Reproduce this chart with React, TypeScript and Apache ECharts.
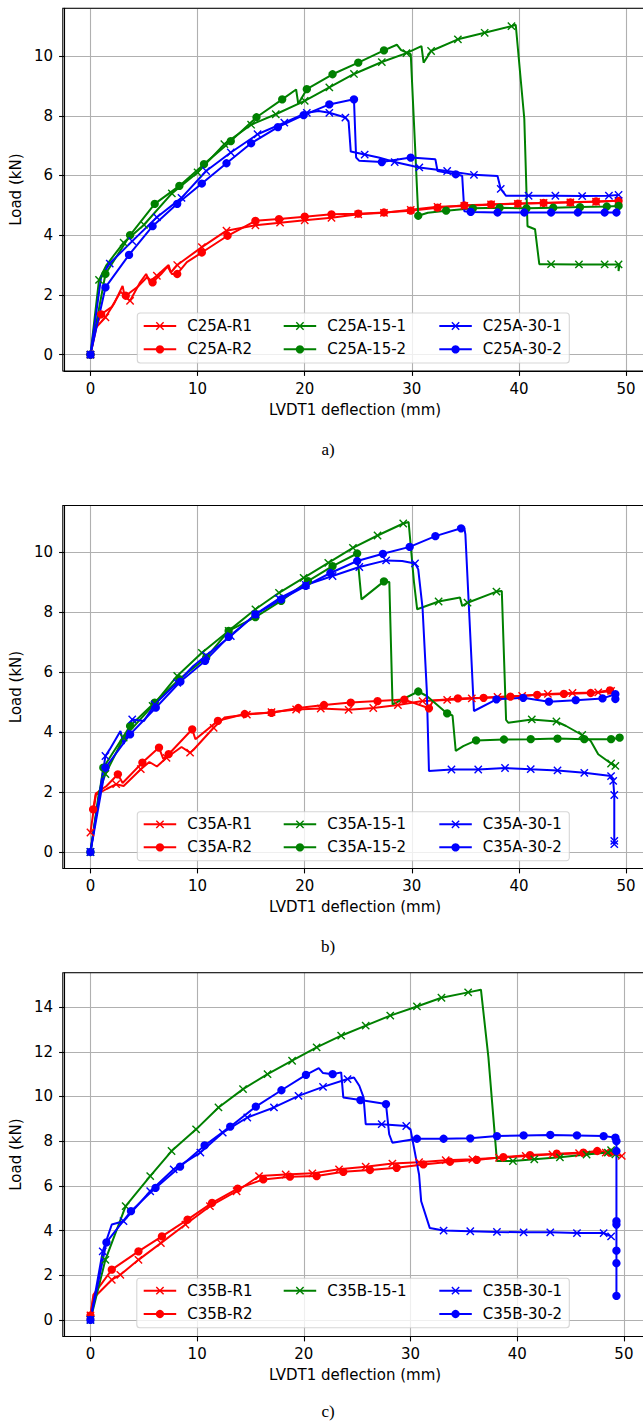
import React, { useEffect, useRef } from "react";
import * as echarts from "echarts";

// ---------- DATA ----------
// each point: [deflection (mm), load (kN), marker flag]
const panelNames = ["a)", "b)", "c)"];

const seriesNamesA = ["C25A-R1", "C25A-R2", "C25A-15-1", "C25A-15-2", "C25A-30-1", "C25A-30-2"];
const seriesNamesB = ["C35A-R1", "C35A-R2", "C35A-15-1", "C35A-15-2", "C35A-30-1", "C35A-30-2"];
const seriesNamesC = ["C35B-R1", "C35B-R2", "C35B-15-1", "C35B-30-1", "C35B-30-2"];

const A_R1 = [[0,0,1],[0.5,0.9,0],[1.4,1.25,1],[2.2,1.7,0],[3.0,2.3,0],[3.2,1.95,0],[3.7,1.8,1],[4.6,2.4,0],[5.2,2.7,0],[5.5,2.45,0],[6.2,2.64,1],[7.3,3.0,0],[7.5,2.75,0],[8.1,3.0,1],[10.4,3.6,1],[12.7,4.15,1],[15.4,4.33,1],[17.7,4.42,1],[20.0,4.5,1],[22.5,4.58,1],[25.0,4.7,1],[27.4,4.75,1],[29.9,4.85,1],[32.4,4.95,1],[34.9,4.98,1],[37.4,5.03,1],[39.9,5.05,1],[42.3,5.08,1],[44.8,5.1,1],[47.2,5.12,1],[49.3,5.15,1]];
const A_R2 = [[0,0,1],[0.6,1.0,0],[1.0,1.35,1],[2.0,1.6,0],[2.8,2.1,0],[3.3,1.97,1],[4.5,2.3,0],[5.3,2.6,0],[5.8,2.42,1],[6.6,2.7,0],[7.2,2.95,0],[7.6,2.7,0],[8.1,2.7,1],[9.0,3.1,0],[10.4,3.42,1],[12.8,3.98,1],[15.4,4.48,1],[17.6,4.54,1],[20.0,4.62,1],[22.5,4.7,1],[25.0,4.72,1],[27.4,4.76,1],[29.9,4.82,1],[32.4,4.92,1],[34.9,5.0,1],[37.4,5.03,1],[39.9,5.06,1],[42.3,5.08,1],[44.8,5.1,1],[47.2,5.13,1],[49.3,5.15,1]];
const A_151 = [[0,0,1],[0.8,2.5,1],[1.5,3.0,0],[3.1,3.75,1],[5.0,4.35,1],[7.6,5.4,1],[10.0,6.1,1],[12.5,7.05,1],[15.0,7.7,1],[17.3,8.05,1],[20.0,8.5,1],[22.3,8.95,1],[24.6,9.4,1],[27.2,9.8,1],[29.5,10.1,1],[30.9,10.33,0],[31.1,9.78,0],[31.8,10.17,1],[34.3,10.56,1],[36.8,10.78,1],[39.3,11.0,1],[39.7,11.05,0],[40.5,7.9,0],[40.8,4.3,0],[41.5,4.2,0],[41.9,3.03,0],[43.0,3.03,1],[45.6,3.02,1],[48.0,3.02,1],[49.3,3.02,1],[49.3,2.8,0],[49.4,3.05,0]];
const A_152 = [[0,0,1],[1.4,2.7,1],[3.7,4.0,1],[6.0,5.05,1],[8.3,5.65,1],[10.6,6.38,1],[13.1,7.15,1],[15.5,7.95,1],[17.9,8.55,1],[19.2,8.88,0],[19.4,8.4,0],[20.2,8.89,1],[22.6,9.39,1],[25.0,9.78,1],[27.4,10.19,1],[28.6,10.38,0],[29.0,10.2,0],[29.9,10.06,0],[30.3,7.0,0],[30.6,4.65,1],[31.5,4.75,0],[33.2,4.82,1],[35.7,4.9,1],[38.2,4.92,1],[40.7,4.9,1],[43.2,4.92,1],[45.7,4.94,1],[48.2,4.96,1],[49.3,4.98,1]];
const A_301 = [[0,0,1],[1.0,2.6,0],[1.8,3.05,1],[3.9,3.8,1],[6.2,4.6,1],[8.5,5.25,1],[10.8,6.15,1],[13.1,6.77,1],[15.6,7.38,1],[18.1,7.77,1],[20.2,8.1,1],[21.3,8.16,0],[22.3,8.1,1],[23.8,7.94,1],[24.1,7.8,0],[24.3,6.8,0],[25.6,6.7,1],[26.9,6.6,0],[28.4,6.45,1],[30.7,6.27,1],[33.3,6.15,1],[35.8,6.02,1],[38.0,5.98,0],[38.3,5.55,1],[38.8,5.32,0],[40.9,5.32,1],[43.4,5.32,1],[45.9,5.31,1],[48.4,5.32,1],[49.3,5.35,1]];
const A_302 = [[0,0,1],[1.4,2.25,1],[3.6,3.34,1],[5.8,4.3,1],[8.1,5.05,1],[10.4,5.73,1],[12.7,6.41,1],[15.0,7.08,1],[17.5,7.62,1],[19.9,8.02,1],[22.3,8.38,1],[24.6,8.55,1],[24.8,6.6,0],[25.1,6.49,0],[27.2,6.45,1],[29.9,6.6,1],[32.2,6.54,0],[32.4,6.15,0],[34.1,6.04,1],[34.7,5.99,0],[34.9,4.8,0],[35.5,4.78,1],[38.0,4.76,1],[40.5,4.76,1],[43.0,4.76,1],[45.5,4.76,1],[48.0,4.76,1],[49.1,4.76,1]];

const B_R1 = [[0,0.65,1],[0.5,1.9,0],[1.5,2.1,0],[2.4,2.26,1],[3.1,2.2,0],[4.7,2.76,1],[5.5,3.0,0],[6.2,2.85,0],[7.1,3.14,1],[8.5,3.5,0],[9.3,3.31,1],[9.6,3.4,0],[11.5,4.14,1],[12.5,4.48,0],[14.6,4.58,1],[16.9,4.66,1],[19.2,4.75,1],[21.5,4.78,1],[24.1,4.74,1],[26.4,4.8,1],[28.7,4.9,1],[31.0,5.03,1],[33.3,5.07,1],[35.6,5.12,1],[38.0,5.17,1],[40.3,5.2,1],[42.7,5.27,1],[45.0,5.3,1],[47.4,5.32,1],[48.6,5.37,1]];
const B_R2 = [[0.25,1.42,1],[0.5,1.95,0],[1.5,2.2,0],[2.56,2.59,1],[3.0,2.3,0],[4.85,2.98,1],[6.4,3.48,1],[6.8,3.1,0],[7.3,3.26,1],[9.5,4.09,1],[9.8,3.76,0],[11.9,4.37,1],[14.4,4.6,1],[16.9,4.64,1],[19.4,4.8,1],[21.8,4.9,1],[24.3,4.98,1],[26.8,5.03,1],[29.3,5.08,1],[31.6,4.79,1],[32.0,5.05,0],[34.3,5.12,1],[36.7,5.14,1],[39.2,5.18,1],[41.7,5.24,1],[44.2,5.27,1],[46.7,5.3,1],[48.5,5.39,1]];
const B_151 = [[0,0,1],[0.8,2.0,0],[1.4,2.6,1],[3.1,3.81,1],[5.8,4.87,1],[8.1,5.87,1],[10.4,6.64,1],[12.9,7.37,1],[15.4,8.09,1],[17.6,8.64,1],[19.9,9.14,1],[22.2,9.64,1],[24.5,10.14,1],[26.8,10.55,1],[29.2,10.95,1],[29.7,11.0,0],[30.2,9.0,0],[30.5,8.09,0],[32.5,8.35,1],[34.5,8.48,0],[34.7,8.2,0],[35.2,8.31,1],[37.9,8.68,1],[38.4,8.7,0],[38.8,4.4,0],[39.0,4.31,0],[41.2,4.42,1],[43.5,4.35,1],[44.4,4.2,0],[45.9,3.9,1],[46.7,3.7,0],[47.4,3.26,0],[48.6,2.95,1],[49.0,2.87,1]];
const B_152 = [[0,0,1],[1.2,2.81,1],[3.7,4.2,1],[6.0,4.98,1],[8.3,5.76,1],[10.8,6.48,1],[12.9,7.37,1],[15.4,7.83,1],[17.8,8.37,1],[20.3,9.03,1],[22.6,9.53,1],[24.9,9.95,1],[25.3,8.42,0],[27.4,9.02,1],[27.9,9.0,0],[28.2,4.92,0],[30.6,5.35,1],[31.4,5.2,0],[33.3,4.62,1],[33.8,4.55,0],[34.1,3.37,0],[34.8,3.53,0],[36.0,3.72,1],[38.6,3.75,1],[41.1,3.76,1],[43.6,3.78,1],[46.1,3.76,1],[48.6,3.76,1],[49.4,3.81,1]];
const B_301 = [[0,0,1],[1.4,3.2,1],[1.8,3.42,0],[2.8,4.03,0],[3.1,3.6,0],[3.9,4.42,1],[5.0,4.37,0],[6.0,4.92,1],[8.1,5.64,1],[9.6,6.2,0],[10.8,6.55,1],[13.1,7.2,1],[15.4,7.92,1],[17.6,8.45,1],[20.1,8.9,1],[22.6,9.2,1],[25.1,9.5,1],[27.6,9.72,1],[29.1,9.7,0],[30.3,9.62,1],[30.6,9.42,0],[31.0,8.14,0],[31.4,5.37,0],[31.6,2.7,0],[33.7,2.75,1],[36.2,2.75,1],[38.7,2.8,1],[41.1,2.76,1],[43.6,2.72,1],[46.1,2.64,1],[48.6,2.53,1],[48.8,2.37,1],[48.9,1.9,1],[48.9,0.37,1],[48.9,0.26,1]];
const B_302 = [[0,0,1],[1.4,2.81,1],[3.7,3.92,1],[6.1,4.81,1],[8.4,5.68,1],[10.7,6.37,1],[12.9,7.17,1],[15.4,7.92,1],[17.8,8.42,1],[20.1,8.87,1],[22.4,9.3,1],[24.9,9.7,1],[27.3,9.94,1],[29.8,10.17,1],[32.2,10.53,1],[34.6,10.79,1],[34.9,10.8,0],[35.0,10.59,0],[35.8,4.7,0],[37.9,5.09,1],[40.4,5.14,1],[42.8,5.01,1],[45.3,5.06,1],[47.8,5.12,1],[49.0,5.26,1],[49.0,5.1,1]];

const C_R1 = [[0,0.2,1],[0.27,0.97,0],[2.0,1.8,1],[2.8,2.02,1],[4.5,2.69,1],[6.6,3.44,1],[8.9,4.27,1],[11.2,5.09,1],[13.7,5.76,1],[15.8,6.44,1],[18.3,6.51,1],[20.8,6.56,1],[23.3,6.74,1],[25.8,6.86,1],[28.3,7.0,1],[30.8,7.06,1],[33.3,7.15,1],[35.8,7.19,1],[38.3,7.26,1],[40.8,7.34,1],[43.3,7.41,1],[45.8,7.46,1],[48.3,7.49,1],[49.8,7.34,1]];
const C_R2 = [[0,0.2,1],[0.27,1.12,0],[2.0,2.25,1],[4.5,3.07,1],[6.7,3.74,1],[9.1,4.49,1],[11.4,5.24,1],[13.8,5.88,1],[16.2,6.29,1],[18.7,6.41,1],[21.2,6.44,1],[23.7,6.63,1],[26.2,6.71,1],[28.7,6.81,1],[31.2,6.96,1],[33.7,7.08,1],[36.2,7.16,1],[38.7,7.29,1],[41.2,7.38,1],[43.7,7.44,1],[46.2,7.49,1],[47.5,7.56,1],[48.7,7.49,1]];
const C_151 = [[0,0,1],[1.4,2.69,1],[3.3,5.09,1],[5.6,6.44,1],[7.6,7.56,1],[9.9,8.53,1],[12.0,9.51,1],[14.3,10.33,1],[16.6,11.0,1],[18.9,11.6,1],[21.2,12.2,1],[23.5,12.72,1],[25.8,13.17,1],[28.1,13.62,1],[30.6,14.03,1],[32.9,14.42,1],[35.4,14.66,1],[36.6,14.78,0],[37.3,11.75,0],[38.1,7.11,0],[39.6,7.11,1],[41.6,7.19,1],[44.0,7.28,1],[46.5,7.4,1],[48.5,7.49,1],[48.8,7.6,1],[49.2,7.41,1]];
const C_301 = [[0,0,1],[1.15,3.07,1],[2.0,4.27,0],[3.1,4.42,1],[5.6,5.76,1],[7.8,6.74,1],[10.3,7.49,1],[12.4,8.38,1],[14.7,9.06,1],[17.2,9.51,1],[19.5,10.03,1],[21.8,10.43,1],[24.1,10.78,1],[24.7,10.85,0],[25.2,10.48,0],[25.6,9.96,0],[25.8,8.76,0],[27.3,8.76,1],[29.6,8.68,1],[30.0,8.53,0],[30.8,6.51,0],[31.0,5.31,0],[31.8,4.12,0],[33.1,4.0,1],[35.6,3.97,1],[38.1,3.94,1],[40.6,3.92,1],[43.1,3.92,1],[45.6,3.89,1],[48.1,3.89,1],[48.8,3.74,1]];
const C_302 = [[0,0,1],[1.5,3.47,1],[3.8,4.87,1],[6.1,5.91,1],[8.4,6.86,1],[10.7,7.81,1],[13.1,8.65,1],[15.5,9.55,1],[17.9,10.28,1],[20.2,10.97,1],[21.4,11.27,0],[21.8,11.05,0],[22.7,11.0,1],[23.5,11.08,0],[23.7,9.96,0],[25.3,9.84,1],[27.7,9.66,1],[28.0,8.31,0],[28.3,7.93,0],[30.6,8.11,1],[33.1,8.11,1],[35.6,8.13,1],[38.1,8.23,1],[40.6,8.26,1],[43.1,8.28,1],[45.6,8.26,1],[48.1,8.23,1],[49.2,8.16,1],[49.3,8.0,1],[49.3,7.56,1],[49.3,4.42,1],[49.3,4.27,1],[49.3,3.1,1],[49.3,2.54,1],[49.3,1.08,1]];

const xAxisLabel = "LVDT1 deflection (mm)";
const yAxisLabel = "Load (kN)";

// ---------- STYLE / LAYOUT ----------
const X_MARK = "path://M0 1.2L1.2 0L5 3.8L8.8 0L10 1.2L6.2 5L10 8.8L8.8 10L5 6.2L1.2 10L0 8.8L3.8 5Z";
const RED = "#ff0000", GREEN = "#008000", BLUE = "#0000ff";
const FONT = "DejaVu Sans";
const FS = 15;

type Pt = number[];
interface SeriesDef { name: string; data: Pt[]; color: string; marker: string; col: number; row: number; }

const panels = [
  {
    grid: { left: 62.8, top: 8.3, width: 583.3, height: 362.7 },
    x: [-2.47, 51.87], y: [-0.55, 11.6],
    legendBox: { x: 137.3, y: 313, w: 432, h: 50 }, rows: [326, 349.3],
    caption: { x: 328, y: 449.7 },
    series: [
      { name: seriesNamesA[0], data: A_R1, color: RED, marker: X_MARK, col: 0, row: 0 },
      { name: seriesNamesA[1], data: A_R2, color: RED, marker: "circle", col: 0, row: 1 },
      { name: seriesNamesA[2], data: A_151, color: GREEN, marker: X_MARK, col: 1, row: 0 },
      { name: seriesNamesA[3], data: A_152, color: GREEN, marker: "circle", col: 1, row: 1 },
      { name: seriesNamesA[4], data: A_301, color: BLUE, marker: X_MARK, col: 2, row: 0 },
      { name: seriesNamesA[5], data: A_302, color: BLUE, marker: "circle", col: 2, row: 1 },
    ] as SeriesDef[],
  },
  {
    grid: { left: 62.8, top: 505.5, width: 583.3, height: 363 },
    x: [-2.47, 51.87], y: [-0.55, 11.55],
    legendBox: { x: 137.3, y: 811.7, w: 432, h: 49 }, rows: [824.3, 847.3],
    caption: { x: 328, y: 946.7 },
    series: [
      { name: seriesNamesB[0], data: B_R1, color: RED, marker: X_MARK, col: 0, row: 0 },
      { name: seriesNamesB[1], data: B_R2, color: RED, marker: "circle", col: 0, row: 1 },
      { name: seriesNamesB[2], data: B_151, color: GREEN, marker: X_MARK, col: 1, row: 0 },
      { name: seriesNamesB[3], data: B_152, color: GREEN, marker: "circle", col: 1, row: 1 },
      { name: seriesNamesB[4], data: B_301, color: BLUE, marker: X_MARK, col: 2, row: 0 },
      { name: seriesNamesB[5], data: B_302, color: BLUE, marker: "circle", col: 2, row: 1 },
    ] as SeriesDef[],
  },
  {
    grid: { left: 62.8, top: 972.7, width: 583.3, height: 363.8 },
    x: [-2.48, 52.08], y: [-0.74, 15.54],
    legendBox: { x: 136.8, y: 1278.3, w: 432.5, h: 49.4 }, rows: [1290.7, 1314],
    caption: { x: 328, y: 1411.7 },
    series: [
      { name: seriesNamesC[0], data: C_R1, color: RED, marker: X_MARK, col: 0, row: 0 },
      { name: seriesNamesC[1], data: C_R2, color: RED, marker: "circle", col: 0, row: 1 },
      { name: seriesNamesC[2], data: C_151, color: GREEN, marker: X_MARK, col: 1, row: 0 },
      { name: seriesNamesC[3], data: C_301, color: BLUE, marker: X_MARK, col: 2, row: 0 },
      { name: seriesNamesC[4], data: C_302, color: BLUE, marker: "circle", col: 2, row: 1 },
    ] as SeriesDef[],
  },
];

const legendCols = [142.7, 282.7, 438.3];

function buildOption() {
  const grid: any[] = [];
  const xAxis: any[] = [];
  const yAxis: any[] = [];
  const series: any[] = [];
  const legend: any[] = [];
  const graphic: any[] = [];

  panels.forEach((p, i) => {
    grid.push({ ...p.grid, containLabel: false });
    xAxis.push({
      type: "value", gridIndex: i, min: p.x[0], max: p.x[1],
      minInterval: 10, maxInterval: 10,
      name: xAxisLabel, nameLocation: "middle", nameGap: 31,
      nameTextStyle: { fontFamily: FONT, fontSize: FS, color: "#000" },
      axisLine: { show: true, onZero: false, lineStyle: { color: "#000", width: 1.1 } },
      axisTick: { show: true, length: 4.9, lineStyle: { color: "#000", width: 1.1 } },
      axisLabel: { showMinLabel: false, showMaxLabel: false, margin: 10, fontFamily: FONT, fontSize: FS, color: "#000" },
      splitLine: { show: true, lineStyle: { color: "#b0b0b0", width: 1.1 } },
    });
    yAxis.push({
      type: "value", gridIndex: i, min: p.y[0], max: p.y[1],
      minInterval: 2, maxInterval: 2,
      name: yAxisLabel, nameLocation: "middle", nameGap: 38, nameRotate: 90,
      nameTextStyle: { fontFamily: FONT, fontSize: FS, color: "#000" },
      axisLine: { show: true, onZero: false, lineStyle: { color: "#000", width: 1.1 } },
      axisTick: { show: true, length: 4.9, lineStyle: { color: "#000", width: 1.1 } },
      axisLabel: { showMinLabel: false, showMaxLabel: false, margin: 11, fontFamily: FONT, fontSize: FS, color: "#000" },
      splitLine: { show: true, lineStyle: { color: "#b0b0b0", width: 1.1 } },
    });

    p.series.forEach((s) => {
      series.push({
        type: "line", name: s.name, xAxisIndex: i, yAxisIndex: i,
        data: s.data.map((d) => (d[2] ? { value: [d[0], d[1]] } : { value: [d[0], d[1]], symbol: "none" })),
        symbol: s.marker, symbolSize: 8.3, showSymbol: true,
        color: s.color,
        lineStyle: { color: s.color, width: 2 },
        itemStyle: { color: s.color },
        silent: true, clip: true,
      });
      legend.push({
        show: true, data: [s.name], selectedMode: false,
        left: legendCols[s.col], top: p.rows[s.row] - 7.5,
        orient: "horizontal", padding: 0, itemGap: 0,
        itemWidth: 32.5, itemHeight: 10.4, z: 12,
        textStyle: { fontFamily: FONT, fontSize: FS, color: "#000", padding: [0, 0, 0, 6] },
      });
    });

    // legend frame
    graphic.push({
      type: "rect", z: 11, silent: true,
      shape: { x: p.legendBox.x, y: p.legendBox.y, width: p.legendBox.w, height: p.legendBox.h, r: 3 },
      style: { fill: "rgba(255,255,255,0.8)", stroke: "rgba(204,204,204,0.8)", lineWidth: 1.1 },
    });
    // full spines frame
    graphic.push({
      type: "rect", z: 10, silent: true,
      shape: { x: p.grid.left, y: p.grid.top, width: p.grid.width, height: p.grid.height },
      style: { fill: "none", stroke: "#000", lineWidth: 1.1 },
    });
    graphic.push({
      type: "text", z: 10, silent: true,
      style: {
        text: panelNames[i], x: p.caption.x, y: p.caption.y,
        textAlign: "center", textVerticalAlign: "middle", verticalAlign: "middle",
        fontFamily: "Liberation Serif", fontSize: 17, fill: "#000",
      },
    });
  });

  return { animation: false, backgroundColor: "#fff", grid, xAxis, yAxis, series, legend, graphic };
}

export default function App() {
  const ref = useRef<HTMLDivElement>(null);
  useEffect(() => {
    if (!ref.current) return;
    const chart = echarts.init(ref.current, null, { renderer: "svg" });
    chart.setOption(buildOption() as any);
    return () => chart.dispose();
  }, []);
  return (
    <div style={{ position: "absolute", left: 0, top: 0, width: 643, height: 1423, overflow: "hidden", background: "#fff" }}>
      <div ref={ref} style={{ width: 700, height: 1423 }} />
    </div>
  );
}
